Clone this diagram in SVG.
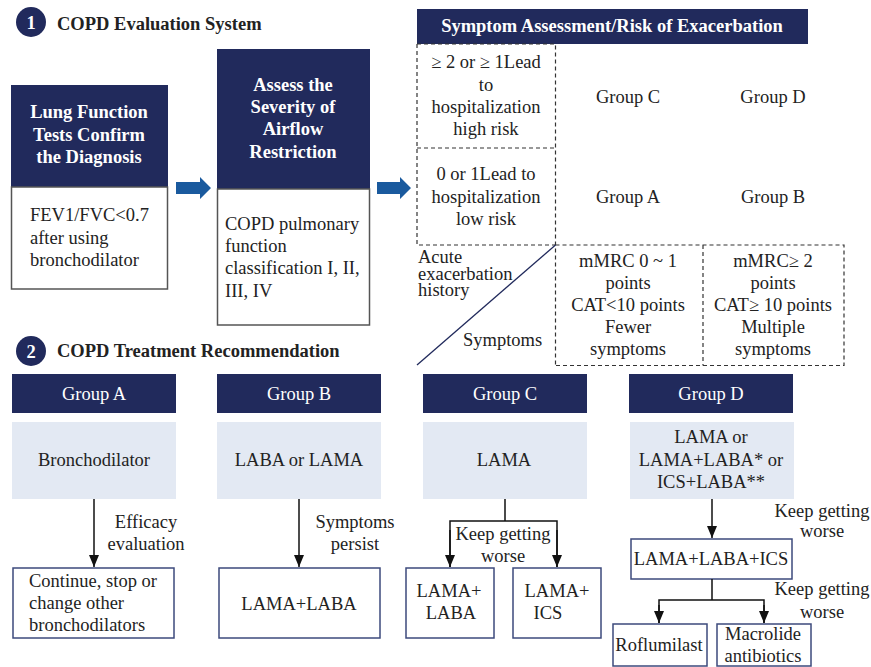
<svg xmlns="http://www.w3.org/2000/svg" width="871" height="667" viewBox="0 0 871 667">
<defs>
<style>
text{font-family:"Liberation Serif","Times New Roman",serif;font-size:18.5px;fill:#222}
.w{fill:#fff}
.b{font-weight:bold}
.m{text-anchor:middle}
.navy{fill:#212a5c}
.light{fill:#e3e9f3}
.body{fill:#fff;stroke:#555;stroke-width:1.5}
.tb{fill:#fff;stroke:#3d4a7c;stroke-width:1.5}
.dash{fill:none;stroke:#333;stroke-width:1.2;stroke-dasharray:4 3}
.ln{fill:none;stroke:#111;stroke-width:1.5}
.blue{fill:#1a5a9e}
</style>
<marker id="ah" viewBox="0 0 12 10" refX="12" refY="5" markerWidth="12" markerHeight="10" markerUnits="userSpaceOnUse" orient="auto">
<path d="M0,0 L12,5 L0,10 Z" fill="#111"/>
</marker>
</defs>
<rect width="871" height="667" fill="#fff"/>

<g id="section1">
<circle cx="31" cy="22" r="15" class="navy"/>
<text x="31" y="29" class="w b m">1</text>
<text x="57" y="30" class="b">COPD Evaluation System</text>
</g>

<g id="lung-function">
<rect x="11" y="85" width="157" height="102" class="navy"/>
<rect x="11.5" y="187" width="156" height="102" class="body"/>
<text class="w b m"><tspan x="89" y="118">Lung Function</tspan><tspan x="89" y="141">Tests Confirm</tspan><tspan x="89" y="163">the Diagnosis</tspan></text>
<text><tspan x="30" y="221">FEV1/FVC&lt;0.7</tspan><tspan x="30" y="244">after using</tspan><tspan x="30" y="266">bronchodilator</tspan></text>
</g>

<g id="severity">
<rect x="217" y="49" width="153" height="140" class="navy"/>
<rect x="217.5" y="189" width="152" height="136" class="body"/>
<text class="w b m"><tspan x="293" y="91">Assess the</tspan><tspan x="293" y="113">Severity of</tspan><tspan x="293" y="135">Airflow</tspan><tspan x="293" y="158">Restriction</tspan></text>
<text><tspan x="225" y="230">COPD pulmonary</tspan><tspan x="225" y="252">function</tspan><tspan x="225" y="274">classification I, II,</tspan><tspan x="225" y="297">III, IV</tspan></text>
</g>

<g id="arrows-blue">
<path d="M176,182 H200 V177 L211,188 L200,199 V194 H176 Z" class="blue"/>
<path d="M377,182 H400 V177 L411,188 L400,199 V194 H377 Z" class="blue"/>
</g>

<g id="assessment-grid">
<rect x="417" y="9" width="391" height="35" class="navy"/>
<text x="612" y="32" class="w b m">Symptom Assessment/Risk of Exacerbation</text>
<path d="M417,44 V245 H555.5 M417,44 H555.5 V365.5 M417,148 H555.5 M555.5,245 H844 V365.5 H555.5 M703,245 V365.5" class="dash"/>
<line x1="417" y1="365" x2="555.5" y2="245" stroke="#212a5c" stroke-width="1.3"/>
<text class="m"><tspan x="486" y="68">≥ 2 or ≥ 1Lead</tspan><tspan x="486" y="91">to</tspan><tspan x="486" y="113">hospitalization</tspan><tspan x="486" y="135">high risk</tspan></text>
<text class="m"><tspan x="486" y="180">0 or 1Lead to</tspan><tspan x="486" y="203">hospitalization</tspan><tspan x="486" y="225">low risk</tspan></text>
<text x="628" y="103" class="m">Group C</text>
<text x="773" y="103" class="m">Group D</text>
<text x="628" y="203" class="m">Group A</text>
<text x="773" y="203" class="m">Group B</text>
<text><tspan x="418" y="263">Acute</tspan><tspan x="418" y="280">exacerbation</tspan><tspan x="418" y="296">history</tspan></text>
<text x="463" y="346">Symptoms</text>
<text class="m"><tspan x="628" y="267">mMRC 0 ~ 1</tspan><tspan x="628" y="289">points</tspan><tspan x="628" y="311">CAT&lt;10 points</tspan><tspan x="628" y="333">Fewer</tspan><tspan x="628" y="355">symptoms</tspan></text>
<text class="m"><tspan x="773" y="267">mMRC≥ 2</tspan><tspan x="773" y="289">points</tspan><tspan x="773" y="311">CAT≥ 10 points</tspan><tspan x="773" y="333">Multiple</tspan><tspan x="773" y="355">symptoms</tspan></text>
</g>

<g id="section2">
<circle cx="31" cy="351" r="15" class="navy"/>
<text x="31" y="358" class="w b m">2</text>
<text x="57" y="357" class="b">COPD Treatment Recommendation</text>
</g>

<g id="group-a">
<rect x="12" y="374" width="164" height="39" class="navy"/>
<text x="94" y="400" class="w m">Group A</text>
<rect x="12" y="422" width="164" height="77" class="light"/>
<text x="94" y="466" class="m">Bronchodilator</text>
<rect x="13" y="568" width="161" height="70" class="tb"/>
<text><tspan x="29" y="587">Continue, stop or</tspan><tspan x="29" y="609">change other</tspan><tspan x="29" y="631">bronchodilators</tspan></text>
</g>

<g id="group-b">
<rect x="217" y="374" width="164" height="39" class="navy"/>
<text x="299" y="400" class="w m">Group B</text>
<rect x="217" y="422" width="164" height="77" class="light"/>
<text x="299" y="466" class="m">LABA or LAMA</text>
<rect x="219" y="568" width="161" height="70" class="tb"/>
<text x="299" y="610" class="m">LAMA+LABA</text>
</g>

<g id="group-c">
<rect x="423" y="374" width="164" height="39" class="navy"/>
<text x="505" y="400" class="w m">Group C</text>
<rect x="423" y="422" width="164" height="77" class="light"/>
<text x="504" y="466" class="m">LAMA</text>
<rect x="406" y="568" width="88" height="70" class="tb"/>
<text class="m"><tspan x="449" y="597">LAMA+</tspan><tspan x="451" y="619">LABA</tspan></text>
<rect x="513" y="568" width="88" height="70" class="tb"/>
<text class="m"><tspan x="557" y="597">LAMA+</tspan><tspan x="548" y="619">ICS</tspan></text>
</g>

<g id="group-d">
<rect x="629" y="374" width="164" height="39" class="navy"/>
<text x="711" y="400" class="w m">Group D</text>
<rect x="630" y="422" width="164" height="77" class="light"/>
<text class="m"><tspan x="711" y="443">LAMA or</tspan><tspan x="711" y="466">LAMA+LABA* or</tspan><tspan x="711" y="488">ICS+LABA**</tspan></text>
<rect x="631" y="539" width="161" height="40" class="tb"/>
<text x="711" y="565" class="m">LAMA+LABA+ICS</text>
<rect x="613" y="624" width="94" height="42" class="tb"/>
<text x="659" y="651" class="m">Roflumilast</text>
<rect x="717" y="624" width="94" height="42" class="tb"/>
<text class="m"><tspan x="763" y="640">Macrolide</tspan><tspan x="763" y="662">antibiotics</tspan></text>
</g>

<g id="connectors">
<path d="M94,499 V567" class="ln" marker-end="url(#ah)"/>
<path d="M299,499 V567" class="ln" marker-end="url(#ah)"/>
<path d="M505,499 V521 M450,567 V521 H557 V567" class="ln"/>
<path d="M450,530 V567" class="ln" marker-end="url(#ah)"/>
<path d="M557,530 V567" class="ln" marker-end="url(#ah)"/>
<path d="M712,499 V538" class="ln" marker-end="url(#ah)"/>
<path d="M712,579 V600 M659,623 V600 H764 V623" class="ln"/>
<path d="M659,605 V623" class="ln" marker-end="url(#ah)"/>
<path d="M764,605 V623" class="ln" marker-end="url(#ah)"/>
</g>

<g id="connector-labels">
<text class="m"><tspan x="146" y="528">Efficacy</tspan><tspan x="146" y="550">evaluation</tspan></text>
<text class="m"><tspan x="355" y="528">Symptoms</tspan><tspan x="355" y="550">persist</tspan></text>
<text class="m"><tspan x="503" y="540">Keep getting</tspan><tspan x="503" y="562">worse</tspan></text>
<text class="m"><tspan x="822" y="517">Keep getting</tspan><tspan x="822" y="537">worse</tspan></text>
<text class="m"><tspan x="822" y="595">Keep getting</tspan><tspan x="822" y="618">worse</tspan></text>
</g>
</svg>
